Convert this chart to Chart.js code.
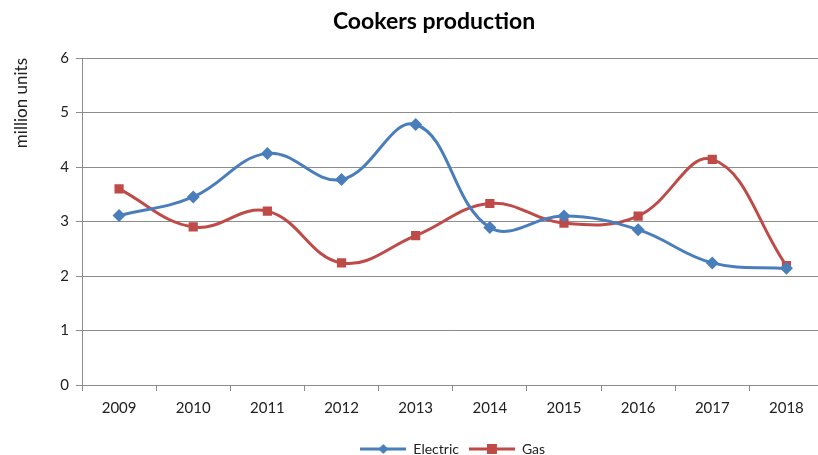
<!DOCTYPE html>
<html><head><meta charset="utf-8">
<script src="https://cdn.jsdelivr.net/npm/chart.js@4/dist/chart.umd.min.js"></script>
<style>html,body{margin:0;padding:0;overflow:hidden;background:#fff}#wrap{width:830px;height:455px}</style>
</head><body><div id="wrap"><canvas id="c" width="830" height="455"></canvas></div>
<script>
const chartTitle = 'Cookers production';
const yAxisTitle = 'million units';
const years = ['2009','2010','2011','2012','2013','2014','2015','2016','2017','2018'];
const electric = [3.11, 3.45, 4.25, 3.77, 4.78, 2.89, 3.10, 2.85, 2.24, 2.14];
const gas = [3.60, 2.90, 3.19, 2.24, 2.74, 3.33, 2.97, 3.10, 4.14, 2.19];
const seriesNames = ['Electric', 'Gas'];
const yTicks = [0, 1, 2, 3, 4, 5, 6];

const BLUE = '#4A7EBB', RED = '#BE4B48', GRID = '#8c8c8c';
const FONT = 'Lato';

function legendIcon(color, shape) {
  const cv = document.createElement('canvas');
  cv.width = 46; cv.height = 14;
  const g = cv.getContext('2d');
  g.strokeStyle = color; g.lineWidth = 3;
  g.beginPath(); g.moveTo(0, 7); g.lineTo(46, 7); g.stroke();
  g.fillStyle = color;
  if (shape === 'diamond') {
    g.beginPath(); g.moveTo(23, 2); g.lineTo(28, 7); g.lineTo(23, 12); g.lineTo(18, 7); g.closePath(); g.fill();
  } else {
    g.fillRect(18, 2, 10, 10);
  }
  return cv;
}

const titlePlugin = {
  id: 'customTitle',
  afterDraw(c) {
    const ctx = c.ctx;
    ctx.save();
    ctx.font = 'bold 23px ' + FONT;
    ctx.fillStyle = '#000';
    ctx.textAlign = 'center';
    ctx.textBaseline = 'middle';
    ctx.fillText(chartTitle, 434, 22);
    ctx.restore();
  }
};

new Chart(document.getElementById('c'), {
  type: 'line',
  data: {
    labels: years,
    datasets: [
      {
        label: seriesNames[0], data: electric,
        borderColor: BLUE, backgroundColor: BLUE, borderWidth: 3,
        tension: 0.4, pointStyle: 'rectRot', pointRadius: 6.5, pointHoverRadius: 6.5,
        pointBackgroundColor: BLUE, pointBorderColor: BLUE, pointBorderWidth: 0
      },
      {
        label: seriesNames[1], data: gas,
        borderColor: RED, backgroundColor: RED, borderWidth: 3,
        tension: 0.4, pointStyle: 'rect', pointRadius: 6.5, pointHoverRadius: 6.5,
        pointBackgroundColor: RED, pointBorderColor: RED, pointBorderWidth: 0
      }
    ]
  },
  plugins: [titlePlugin],
  options: {
    responsive: false,
    animation: false,
    layout: { padding: { top: 58, left: 11, right: 3, bottom: -11 } },
    plugins: {
      title: { display: false },
      tooltip: { enabled: false },
      legend: {
        position: 'bottom',
        fullSize: false,
        labels: {
          usePointStyle: true,
          pointStyleWidth: 46,
          font: { family: FONT, size: 14 },
          color: '#222',
          padding: 10,
          generateLabels(chart) {
            return chart.data.datasets.map((d, i) => ({
              text: d.label,
              pointStyle: legendIcon(d.borderColor, i === 0 ? 'diamond' : 'square'),
              fillStyle: d.borderColor, strokeStyle: d.borderColor,
              lineWidth: 0, hidden: false, datasetIndex: i, fontColor: '#222'
            }));
          }
        }
      }
    },
    scales: {
      x: {
        offset: true,
        grid: { drawOnChartArea: false, drawTicks: true, tickLength: 6, color: GRID, offset: true },
        border: { color: GRID, width: 1 },
        ticks: { font: { family: FONT, size: 15 }, color: '#222', padding: 8, maxRotation: 0 },
        afterFit(s) { s.height = 47; }
      },
      y: {
        min: 0, max: 6,
        afterBuildTicks(s) { s.ticks = yTicks.map(v => ({ value: v })); },
        grid: { color: GRID, drawTicks: true, tickLength: 6 },
        border: { color: GRID, width: 1 },
        ticks: { font: { family: FONT, size: 15 }, color: '#222', padding: 7 },
        title: { display: true, text: yAxisTitle, align: 'end', font: { family: FONT, size: 17 }, color: '#222', padding: 0 },
        afterFit(s) { s.width = 71; }
      }
    }
  }
});
</script>
</body></html>
